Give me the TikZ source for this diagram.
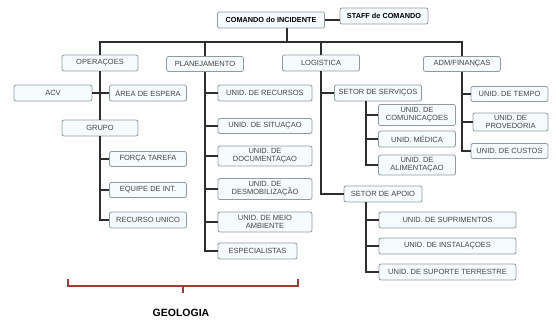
\documentclass[tikz,border=0pt]{standalone}
\usepackage{fontspec}
\setmainfont{Liberation Sans}
\usepackage{tikz}
\usetikzlibrary{calc}

\definecolor{boxline}{HTML}{8E9BA2}
\definecolor{boxfill}{HTML}{F6FBFD}
\definecolor{boxtext}{HTML}{454545}
\definecolor{linkcol}{HTML}{2E2E2E}
\definecolor{bracketcol}{HTML}{A33A3A}

\tikzset{
  unit/.style={draw=boxline, fill=boxfill, rounded corners=2pt, line width=0.8pt,
    text=boxtext, font=\fontsize{7.5}{7.9}\selectfont, inner sep=0pt, align=center},
  chief/.style={unit, text=black, font=\fontsize{7.3}{7.7}\selectfont\bfseries},
  link/.style={draw=linkcol, line width=1.8pt},
}

\begin{document}
\begin{tikzpicture}[x=1pt,y=-1pt]
        \useasboundingbox (0,0) rectangle (556,322);
        % top
        \node[chief, minimum width=107pt, minimum height=16pt](cmd) at (271, 20) {COMANDO do INCIDENTE};
        \node[chief, minimum width=88pt, minimum height=16pt](staff) at (384, 16) {STAFF de COMANDO};
        \coordinate(drop) at (287, 42);
        % sections
        \node[unit, minimum width=76pt, minimum height=16pt](ops) at (100, 63) {OPERAÇOES};
        \node[unit, minimum width=77pt, minimum height=15pt](plan) at (205, 64) {PLANEJAMENTO};
        \node[unit, minimum width=77pt, minimum height=16pt](log) at (321, 63) {LOGISTICA};
        \node[unit, minimum width=77pt, minimum height=15pt](adm) at (462, 64) {ADM/FINANÇAS};
        % operacoes
        \node[unit, minimum width=78pt, minimum height=16pt](acv) at (53, 93) {ACV};
        \node[unit, minimum width=77pt, minimum height=16pt](area) at (148, 93) {ÁREA DE ESPERA};
        \node[unit, minimum width=76pt, minimum height=16pt](grupo) at (100, 128) {GRUPO};
        \node[unit, minimum width=77pt, minimum height=15pt](forca) at (148, 159) {FORÇA TAREFA};
        \node[unit, minimum width=77pt, minimum height=15pt](equipe) at (148, 190) {EQUIPE DE INT.};
        \node[unit, minimum width=77pt, minimum height=16pt](recurso) at (148, 220) {RECURSO UNICO};
        % planejamento
        \node[unit, minimum width=94pt, minimum height=16pt](urec) at (265, 93) {UNID. DE RECURSOS};
        \node[unit, minimum width=94pt, minimum height=15pt](usit) at (265, 126) {UNID. DE SITUAÇAO};
        \node[unit, minimum width=94pt, minimum height=20pt](udoc) at (265, 156) {UNID. DE\\DOCUMENTAÇAO};
        \node[unit, minimum width=94pt, minimum height=21pt](udes) at (265, 189) {UNID. DE\\DESMOBILIZAÇÃO};
        \node[unit, minimum width=94pt, minimum height=20pt](umeio) at (265, 222) {UNID. DE MEIO\\AMBIENTE};
        \node[unit, minimum width=79pt, minimum height=16pt](esp) at (257.5, 251) {ESPECIALISTAS};
        % logistica
        \node[unit, minimum width=87pt, minimum height=16pt](serv) at (378, 93) {SETOR DE SERVIÇOS};
        \node[unit, minimum width=77pt, minimum height=21pt](ucom) at (417, 115) {UNID. DE\\COMUNICAÇOES};
        \node[unit, minimum width=77pt, minimum height=16pt](umed) at (417, 139) {UNID. MÉDICA};
        \node[unit, minimum width=77pt, minimum height=20pt](ualim) at (417, 165) {UNID. DE\\ALIMENTAÇAO};
        \node[unit, minimum width=78pt, minimum height=16pt](apoio) at (383, 194) {SETOR DE APOIO};
        \node[unit, minimum width=137pt, minimum height=16pt](usup) at (447.5, 220) {UNID. DE SUPRIMENTOS};
        \node[unit, minimum width=137pt, minimum height=16pt](uinst) at (447.5, 246) {UNID. DE INSTALAÇOES};
        \node[unit, minimum width=137pt, minimum height=16pt](uterr) at (447.5, 272) {UNID. DE SUPORTE TERRESTRE};
        % adm
        \node[unit, minimum width=77pt, minimum height=15pt](utempo) at (509.5, 94) {UNID. DE TEMPO};
        \node[unit, minimum width=75pt, minimum height=18pt](uprov) at (510.5, 122) {UNID. DE\\PROVEDORIA};
        \node[unit, minimum width=77pt, minimum height=15pt](ucust) at (509.5, 151) {UNID. DE CUSTOS};
        \coordinate(servdrop) at (366, 101);
        \coordinate(apoiodrop) at (366, 202);
        % links
        \draw[link] (cmd.east) -- (staff.west |- cmd.east);
        \draw[link] (drop |- cmd.south) -- (drop);
        \draw[link] (ops.north) -- (ops.north |- drop) -- (adm.north |- drop) -- (adm.north);
        \draw[link] (plan.north) -- (plan.north |- drop);
        \draw[link] (log.north) -- (log.north |- drop);
        \draw[link] (ops.south) -- (grupo.north);
        \draw[link] (acv.east) -- (area.west);
        \draw[link] (grupo.south) |- (recurso.west);
        \draw[link] (grupo.south |- forca.west) -- (forca.west);
        \draw[link] (grupo.south |- equipe.west) -- (equipe.west);
        \draw[link] (plan.south) |- (esp.west);
        \foreach \u in {urec,usit,udoc,udes,umeio}
          \draw[link] (plan.south |- \u.west) -- (\u.west);
        \draw[link] (log.south) |- (apoio.west);
        \draw[link] (log.south |- serv.west) -- (serv.west);
        \draw[link] (servdrop) |- (ualim.west);
        \draw[link] (servdrop |- ucom.west) -- (ucom.west);
        \draw[link] (servdrop |- umed.west) -- (umed.west);
        \draw[link] (apoiodrop) |- (uterr.west);
        \draw[link] (apoiodrop |- usup.west) -- (usup.west);
        \draw[link] (apoiodrop |- uinst.west) -- (uinst.west);
        \draw[link] (adm.south) |- (ucust.west);
        \draw[link] (adm.south |- utempo.west) -- (utempo.west);
        \draw[link] (adm.south |- uprov.west) -- (uprov.west);
        % geologia
        \coordinate(brL) at (68, 279);
        \coordinate(brR) at (298, 279);
        \coordinate(brM) at (183, 286);
        \draw[bracketcol, line width=1.2pt] (brL) -- (brL |- brM) -- (brR |- brM) -- (brR);
        \draw[bracketcol, line width=1.6pt] (brM) -- ++(0, 7);
        \node[font=\fontsize{10.5}{12}\selectfont\bfseries](geo) at (181, 313) {GEOLOGIA};
      \end{tikzpicture}
\end{document}
